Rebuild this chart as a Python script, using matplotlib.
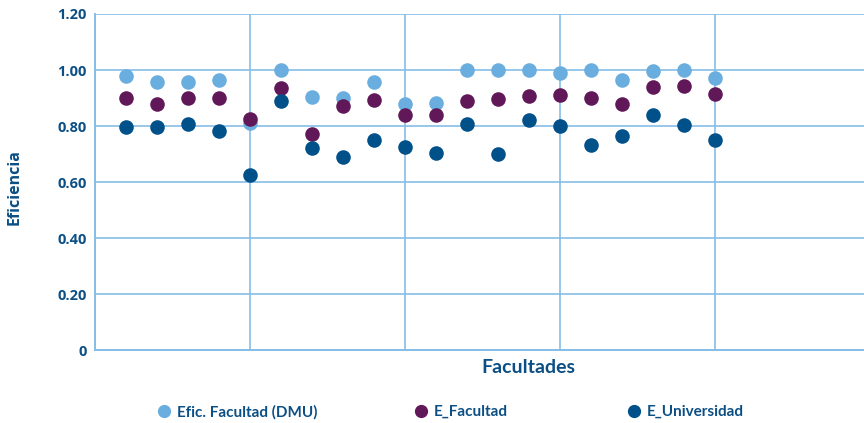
import numpy as np
import matplotlib
matplotlib.use('Agg')
import matplotlib.pyplot as plt
from matplotlib.lines import Line2D

###############################################################################
facultades = list(range(1, 21))
efic_dmu   = [0.980, 0.959, 0.956, 0.966, 0.811, 1.000, 0.902, 0.899, 0.958, 0.879,
              0.883, 1.000, 1.000, 1.000, 0.991, 1.000, 0.966, 0.995, 1.000, 0.970]
e_facultad = [0.900, 0.880, 0.899, 0.901, 0.826, 0.936, 0.773, 0.870, 0.894, 0.839,
              0.839, 0.890, 0.896, 0.909, 0.911, 0.900, 0.880, 0.939, 0.943, 0.914]
e_univ     = [0.795, 0.795, 0.807, 0.781, 0.626, 0.888, 0.721, 0.689, 0.751, 0.726,
              0.704, 0.808, 0.699, 0.820, 0.799, 0.732, 0.764, 0.838, 0.805, 0.750]
labels     = ['Efic. Facultad (DMU)', 'E_Facultad', 'E_Universidad']
yticks     = [0, 0.2, 0.4, 0.6, 0.8, 1.0, 1.2]
ytick_lbls = ['0', '0.20', '0.40', '0.60', '0.80', '1.00', '1.20']
###############################################################################
c_light = '#6aaee0'
c_purp  = '#611859'
c_dark  = '#00508a'
c_grid  = '#86bde6'
c_text  = '#0b4f85'

fig = plt.figure(figsize=(8.64, 4.23), dpi=100)
ax = fig.add_axes([0.1103, 0.1719, 0.8897, 0.7951])

# draw the three series
ax.scatter(facultades, efic_dmu, s=110, color=c_light, zorder=3, linewidths=0)
ax.scatter(facultades, e_facultad, s=110, color=c_purp, zorder=4, linewidths=0)
ax.scatter(facultades, e_univ, s=110, color=c_dark, zorder=5, linewidths=0)

ax.set_xlim(0, 24.8)
ax.set_ylim(0, 1.2)
ax.set_xticks([0, 5, 10, 15, 20])
ax.set_xticklabels([])
ax.set_yticks(yticks)
ax.set_yticklabels(ytick_lbls, fontfamily='Open Sans', fontweight='bold',
                   fontsize=10.5, color=c_text)
ax.tick_params(length=0, pad=6)
ax.grid(True, color=c_grid, lw=1.2, zorder=0)
ax.set_axisbelow(True)
for side in ['top', 'right']:
    ax.spines[side].set_visible(False)
for side in ['left', 'bottom']:
    ax.spines[side].set_color(c_grid)
    ax.spines[side].set_linewidth(1.4)

ax.set_ylabel('Eficiencia', fontfamily='Open Sans', fontweight='bold',
              fontsize=11.5, color=c_text)
ax.yaxis.set_label_coords(-0.094, 0.485)
fig.text(528/864, 1 - 367/423, 'Facultades', ha='center', va='center',
         fontfamily='Lato', fontweight='bold', fontsize=14, color=c_text)

# legend entries placed one by one
cols = [c_light, c_purp, c_dark]
xpos = [156/864, 413/864, 626/864]
for lab, col, xp in zip(labels, cols, xpos):
    h = Line2D([], [], marker='o', ls='', color=col, markersize=8.5)
    leg = fig.legend([h], [lab], loc='center left', bbox_to_anchor=(xp, 1 - 412/423),
                     frameon=False, handletextpad=0.35, borderpad=0, borderaxespad=0,
                     handlelength=1.0,
                     prop={'family': 'Lato', 'weight': 'bold', 'size': 11})
    for t in leg.get_texts():
        t.set_color(c_text)

fig.savefig('out.png', dpi=100)
